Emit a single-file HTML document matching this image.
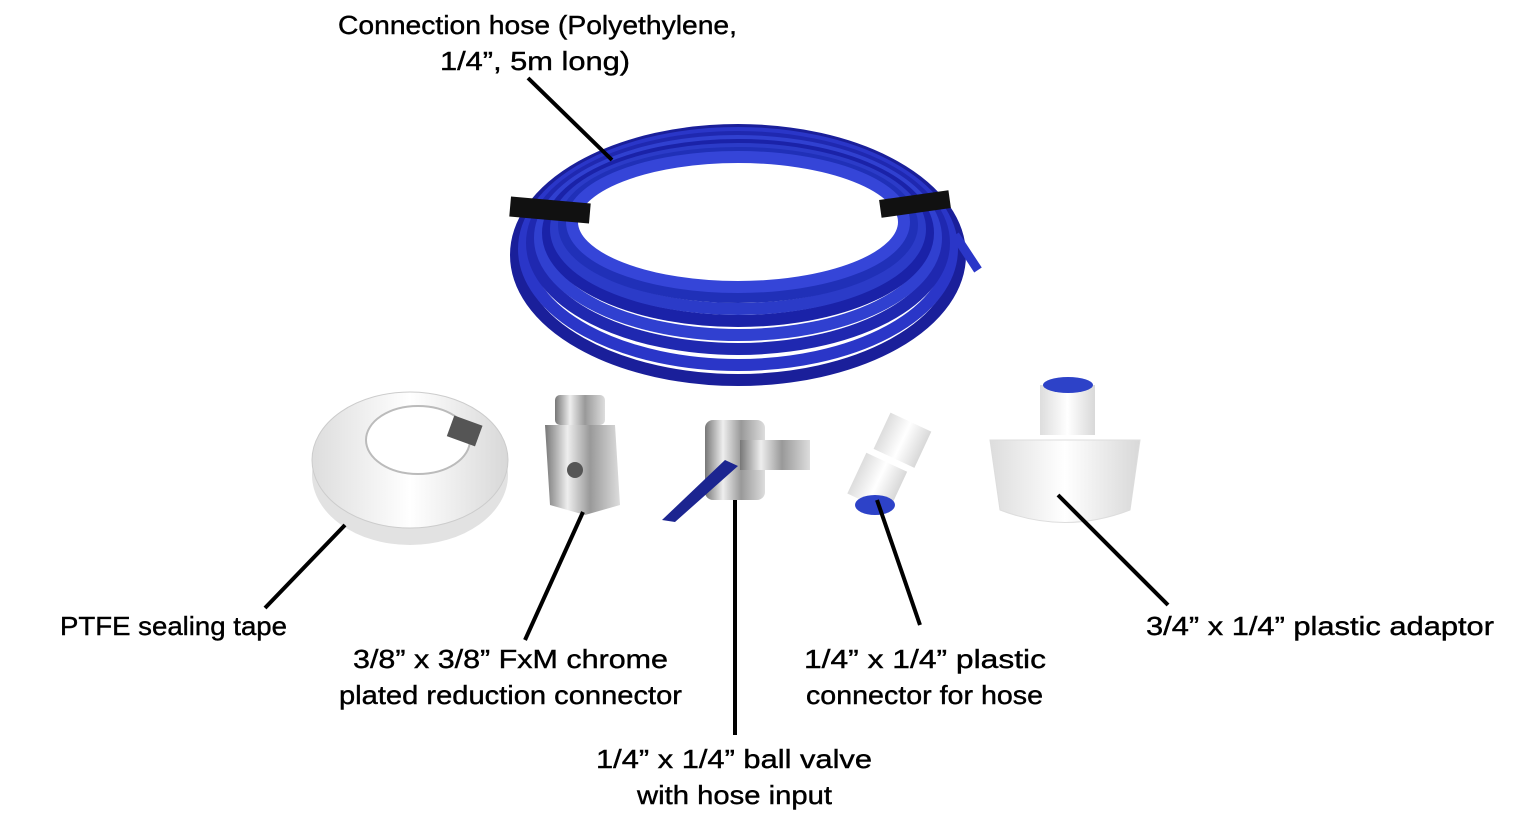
<!DOCTYPE html>
<html><head><meta charset="utf-8"><style>
html,body{margin:0;padding:0;background:#fff;}
svg{display:block}
text{font-family:"Liberation Sans",sans-serif;font-size:26px;fill:#000;stroke:#000;stroke-width:0.4px;}
</style></head><body>
<svg width="1520" height="824" viewBox="0 0 1520 824">
<defs>
<linearGradient id="chrome" x1="0" x2="1"><stop offset="0" stop-color="#777"/><stop offset=".3" stop-color="#eee"/><stop offset=".6" stop-color="#999"/><stop offset="1" stop-color="#ddd"/></linearGradient>
<linearGradient id="wh" x1="0" x2="1"><stop offset="0" stop-color="#ddd"/><stop offset=".5" stop-color="#fff"/><stop offset="1" stop-color="#d8d8d8"/></linearGradient>
</defs>
<!-- hose coil -->
<g fill="none" stroke-width="12">
<ellipse cx="738" cy="255" rx="222" ry="125" stroke="#1a1f9a"/>
<ellipse cx="738" cy="249" rx="214" ry="116" stroke="#2a36c8"/>
<ellipse cx="738" cy="243" rx="206" ry="106" stroke="#1f28b0"/>
<ellipse cx="738" cy="238" rx="198" ry="97" stroke="#3040d0"/>
<ellipse cx="738" cy="233" rx="190" ry="88" stroke="#1a22a8"/>
<ellipse cx="738" cy="229" rx="182" ry="80" stroke="#2b3bc8"/>
<ellipse cx="738" cy="225" rx="174" ry="72" stroke="#2030b8"/>
<ellipse cx="738" cy="222" rx="166" ry="65" stroke="#3545d8"/>
</g>
<path d="M955 235 L978 270" stroke="#2a36c8" stroke-width="9"/>
<rect x="510" y="200" width="80" height="20" fill="#111" transform="rotate(5 550 210)"/>
<rect x="880" y="195" width="70" height="18" fill="#111" transform="rotate(-8 915 204)"/>
<!-- tape -->
<ellipse cx="410" cy="475" rx="98" ry="70" fill="#e2e2e2"/>
<ellipse cx="410" cy="460" rx="98" ry="68" fill="url(#wh)" stroke="#ccc"/>
<ellipse cx="418" cy="440" rx="52" ry="34" fill="#fff" stroke="#bbb" stroke-width="2"/>
<rect x="450" y="420" width="30" height="22" fill="#555" transform="rotate(20 465 430)"/>
<!-- reduction connector -->
<rect x="555" y="395" width="50" height="30" rx="5" fill="url(#chrome)"/>
<path d="M545 425 L615 425 L620 505 L585 515 L550 505 Z" fill="url(#chrome)"/>
<circle cx="575" cy="470" r="8" fill="#555"/>
<!-- ball valve -->
<rect x="705" y="420" width="60" height="80" rx="8" fill="url(#chrome)"/>
<path d="M662 520 L725 460 L738 466 L675 522 Z" fill="#1c2590"/>
<rect x="740" y="440" width="70" height="30" fill="url(#chrome)"/>
<!-- plastic connector -->
<rect x="880" y="420" width="45" height="40" fill="url(#wh)" transform="rotate(25 902 440)"/>
<rect x="855" y="460" width="45" height="45" fill="url(#wh)" transform="rotate(25 877 482)"/>
<ellipse cx="875" cy="505" rx="20" ry="10" fill="#2d42c8"/>
<!-- adaptor -->
<rect x="1040" y="385" width="55" height="50" fill="url(#wh)"/>
<ellipse cx="1068" cy="385" rx="25" ry="8" fill="#2d42c8"/>
<path d="M990 440 L1140 440 L1130 510 Q1065 535 1000 510 Z" fill="url(#wh)" stroke="#ddd"/>
<!-- leader lines -->
<g stroke="#000" stroke-width="4">
<line x1="528" y1="78" x2="612" y2="160"/>
<line x1="265" y1="608" x2="345" y2="525"/>
<line x1="525" y1="640" x2="583" y2="512"/>
<line x1="735" y1="500" x2="735" y2="735"/>
<line x1="877" y1="500" x2="920" y2="625"/>
<line x1="1058" y1="495" x2="1168" y2="605"/>
</g>
<text x="338" y="34" textLength="399" lengthAdjust="spacingAndGlyphs">Connection hose (Polyethylene,</text>
<text x="440" y="70" textLength="190" lengthAdjust="spacingAndGlyphs">1/4”, 5m long)</text>
<text x="60" y="635" textLength="227" lengthAdjust="spacingAndGlyphs">PTFE sealing tape</text>
<text x="353" y="668" textLength="315" lengthAdjust="spacingAndGlyphs">3/8” x 3/8” FxM chrome</text>
<text x="339" y="704" textLength="343" lengthAdjust="spacingAndGlyphs">plated reduction connector</text>
<text x="596" y="768" textLength="276" lengthAdjust="spacingAndGlyphs">1/4” x 1/4” ball valve</text>
<text x="637" y="804" textLength="195" lengthAdjust="spacingAndGlyphs">with hose input</text>
<text x="804" y="668" textLength="242" lengthAdjust="spacingAndGlyphs">1/4” x 1/4” plastic</text>
<text x="806" y="704" textLength="237" lengthAdjust="spacingAndGlyphs">connector for hose</text>
<text x="1146" y="635" textLength="348" lengthAdjust="spacingAndGlyphs">3/4” x 1/4” plastic adaptor</text>
</svg>
</body></html>
